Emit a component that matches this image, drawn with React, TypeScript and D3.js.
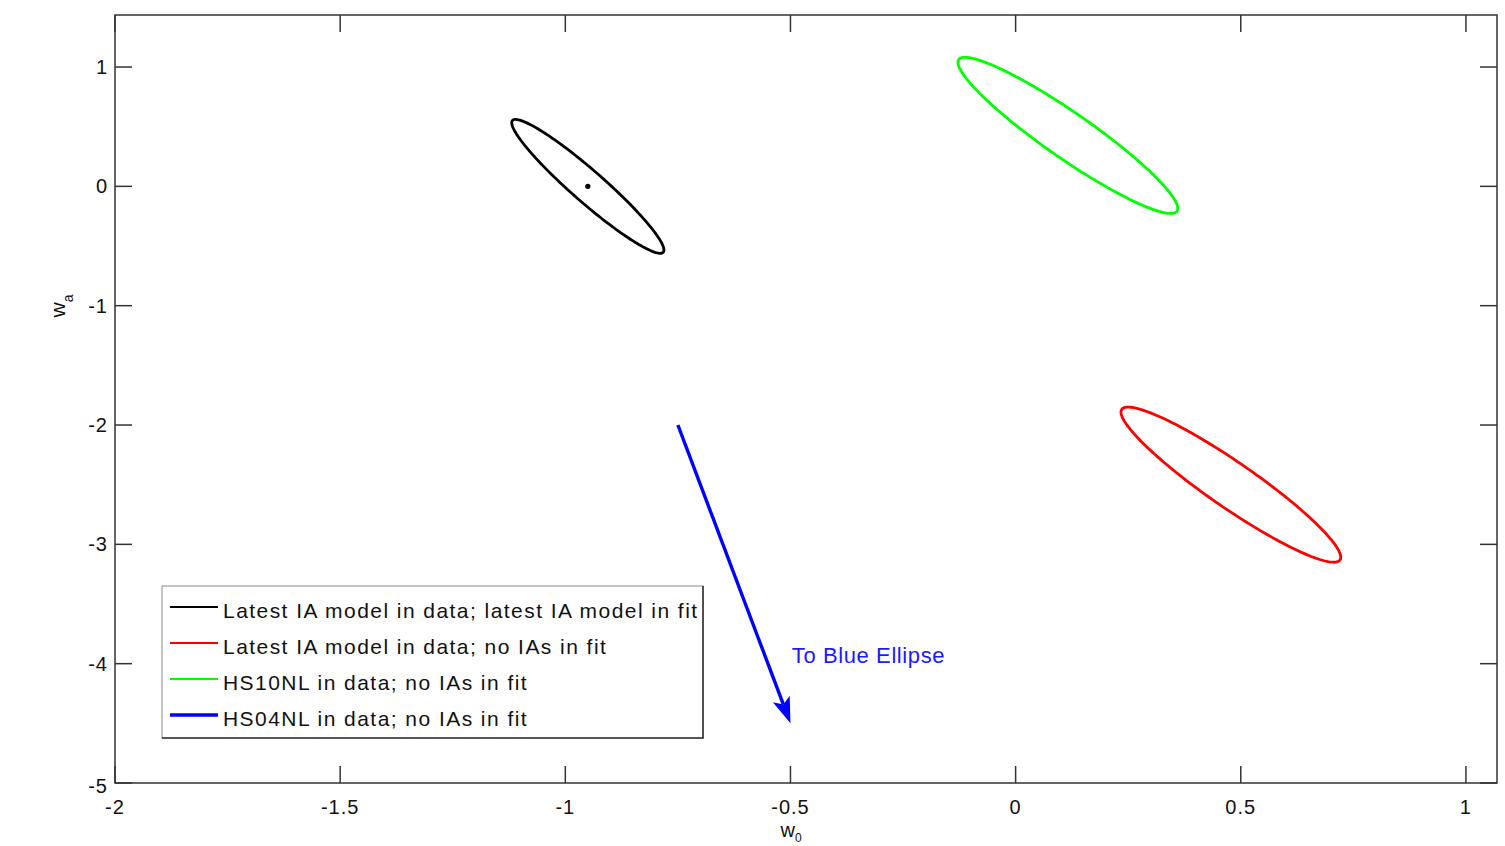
import React from 'react';
import * as d3 from 'd3';

// Axis ticks
const xTicks = [-2, -1.5, -1, -0.5, 0, 0.5, 1];
const yTicks = [-5, -4, -3, -2, -1, 0, 1];
const xTickLabels = ['-2', '-1.5', '-1', '-0.5', '0', '0.5', '1'];
const yTickLabels = ['-5', '-4', '-3', '-2', '-1', '0', '1'];

// Legend entries
const seriesLabels = [
  'Latest IA model in data; latest IA model in fit',
  'Latest IA model in data; no IAs in fit',
  'HS10NL in data; no IAs in fit',
  'HS04NL in data; no IAs in fit',
];
const seriesColors = ['#000000', '#ff0000', '#00ff00', '#0000ff'];

// Confidence ellipses (black, red, green): centre, half extent along each axis, correlation
const ellipseCenterW0 = [-0.95, 0.478, 0.116];
const ellipseCenterWa = [0.0, -2.5, 0.427];
const ellipseHalfW0 = [0.169, 0.244, 0.244];
const ellipseHalfWa = [0.561, 0.65, 0.654];
const ellipseCorr = [-0.95, -0.935, -0.935];

// Fiducial point of the black fit
const fiducial = [-0.95, 0.0];

// Arrow pointing toward the off-axis blue ellipse
const arrowFrom = [-0.75, -2.0];
const arrowTo = [-0.5, -4.5];
const arrowLabel = 'To Blue Ellipse';
const arrowLabelAt = [-0.497, -3.93];

const W = 1505;
const H = 846;
const left = 115;
const right = 1497;
const top = 15;
const bottom = 783;
const tickLen = 17;
const font = '"Liberation Sans", Arial, Helvetica, sans-serif';

export default function App() {
  const x = d3.scaleLinear().domain([-2, 1.069]).range([left, right]);
  const y = d3.scaleLinear().domain([-5, 1.436]).range([bottom, top]);

  const line = d3
    .line<[number, number]>()
    .x((d) => x(d[0]))
    .y((d) => y(d[1]))
    .curve(d3.curveLinearClosed);

  const ellipses = ellipseCenterW0.map((cx, i) => {
    const cy = ellipseCenterWa[i];
    const a = ellipseHalfW0[i];
    const b = ellipseHalfWa[i];
    const r = ellipseCorr[i];
    const s = Math.sqrt(1 - r * r);
    const pts: [number, number][] = d3.range(0, 360, 2).map((deg) => {
      const t = (deg * Math.PI) / 180;
      return [cx + a * Math.cos(t), cy + b * (r * Math.cos(t) + s * Math.sin(t))];
    });
    return line(pts) as string;
  });

  // arrow geometry in pixel space
  const ax0 = x(arrowFrom[0]);
  const ay0 = y(arrowFrom[1]);
  const ax1 = x(arrowTo[0]);
  const ay1 = y(arrowTo[1]);
  const len = Math.hypot(ax1 - ax0, ay1 - ay0);
  const ux = (ax1 - ax0) / len;
  const uy = (ay1 - ay0) / len;
  const px = -uy;
  const py = ux;
  const headLen = 26;
  const headHalf = 9;
  const notch = 6;
  const bx = ax1 - ux * headLen;
  const by = ay1 - uy * headLen;
  const head = [
    [ax1, ay1],
    [bx + px * headHalf, by + py * headHalf],
    [ax1 - ux * (headLen - notch), ay1 - uy * (headLen - notch)],
    [bx - px * headHalf, by - py * headHalf],
  ]
    .map((p) => p.join(','))
    .join(' ');

  const legendX0 = 162;
  const legendX1 = 703;
  const legendY0 = 586;
  const legendY1 = 738;
  const rowY = (i: number) => 607 + i * 36;

  const axisColor = '#333333';

  return (
    <svg
      width={W}
      height={H}
      style={{ position: 'absolute', left: 0, top: 0, background: '#ffffff' }}
      fontFamily={font}
    >
      <rect x={0} y={0} width={W} height={H} fill="#ffffff" />

      {/* ellipses */}
      {ellipses.map((d, i) => (
        <path key={i} d={d} fill="none" stroke={seriesColors[i]} strokeWidth={2.8} />
      ))}
      <circle cx={x(fiducial[0])} cy={y(fiducial[1])} r={2.6} fill="#000" />

      {/* arrow */}
      <line
        x1={ax0}
        y1={ay0}
        x2={ax1 - ux * (headLen - notch)}
        y2={ay1 - uy * (headLen - notch)}
        stroke="#0000ff"
        strokeWidth={3.4}
      />
      <polygon points={head} fill="#0000ff" />
      <text
        x={x(arrowLabelAt[0])}
        y={y(arrowLabelAt[1])}
        dominantBaseline="central"
        fontSize={22}
        letterSpacing={0.6}
        fill="#1a1aff"
      >
        {arrowLabel}
      </text>

      {/* axes frame */}
      <rect
        x={left}
        y={top}
        width={right - left}
        height={bottom - top}
        fill="none"
        stroke={axisColor}
        strokeWidth={1.5}
      />
      {xTicks.map((t) => (
        <g key={'xt' + t}>
          <line x1={x(t)} x2={x(t)} y1={bottom} y2={bottom - tickLen} stroke={axisColor} strokeWidth={1.5} />
          <line x1={x(t)} x2={x(t)} y1={top} y2={top + tickLen} stroke={axisColor} strokeWidth={1.5} />
        </g>
      ))}
      {yTicks.map((t) => (
        <g key={'yt' + t}>
          <line x1={left} x2={left + tickLen} y1={y(t)} y2={y(t)} stroke={axisColor} strokeWidth={1.5} />
          <line x1={right} x2={right - tickLen} y1={y(t)} y2={y(t)} stroke={axisColor} strokeWidth={1.5} />
        </g>
      ))}
      {xTicks.map((t, i) => (
        <text
          key={'xl' + t}
          x={x(t)}
          y={814}
          textAnchor="middle"
          fontSize={20}
          letterSpacing={1}
          fill="#111"
        >
          {xTickLabels[i]}
        </text>
      ))}
      {yTicks.map((t, i) => (
        <text
          key={'yl' + t}
          x={108}
          y={y(t) + (t === -5 ? 3 : 0)}
          textAnchor="end"
          dominantBaseline="central"
          fontSize={20}
          letterSpacing={1}
          fill="#111"
        >
          {yTickLabels[i]}
        </text>
      ))}

      {/* axis titles */}
      <text x={791} y={837} textAnchor="middle" fontSize={20} fill="#111">
        w<tspan fontSize={12} dy={5}>0</tspan>
      </text>
      <text
        transform="translate(65,306) rotate(-90)"
        textAnchor="middle"
        fontSize={21}
        fill="#111"
      >
        w<tspan fontSize={14} dy={8}>a</tspan>
      </text>

      {/* legend */}
      <rect
        x={legendX0}
        y={legendY0}
        width={legendX1 - legendX0}
        height={legendY1 - legendY0}
        fill="#ffffff"
        stroke="#8a8a8a"
        strokeWidth={1}
      />
      <polyline
        points={`${legendX1},${legendY0} ${legendX1},${legendY1} ${legendX0},${legendY1}`}
        fill="none"
        stroke="#333"
        strokeWidth={1.6}
      />
      {seriesLabels.map((label, i) => (
        <g key={'lg' + i}>
          <line
            x1={170}
            x2={218}
            y1={rowY(i)}
            y2={rowY(i)}
            stroke={seriesColors[i]}
            strokeWidth={i === 3 ? 3.4 : 2.2}
          />
          <text
            x={223}
            y={rowY(i) + 11}
            fontSize={21}
            letterSpacing={1.45}
            fill="#111"
          >
            {label}
          </text>
        </g>
      ))}
    </svg>
  );
}
